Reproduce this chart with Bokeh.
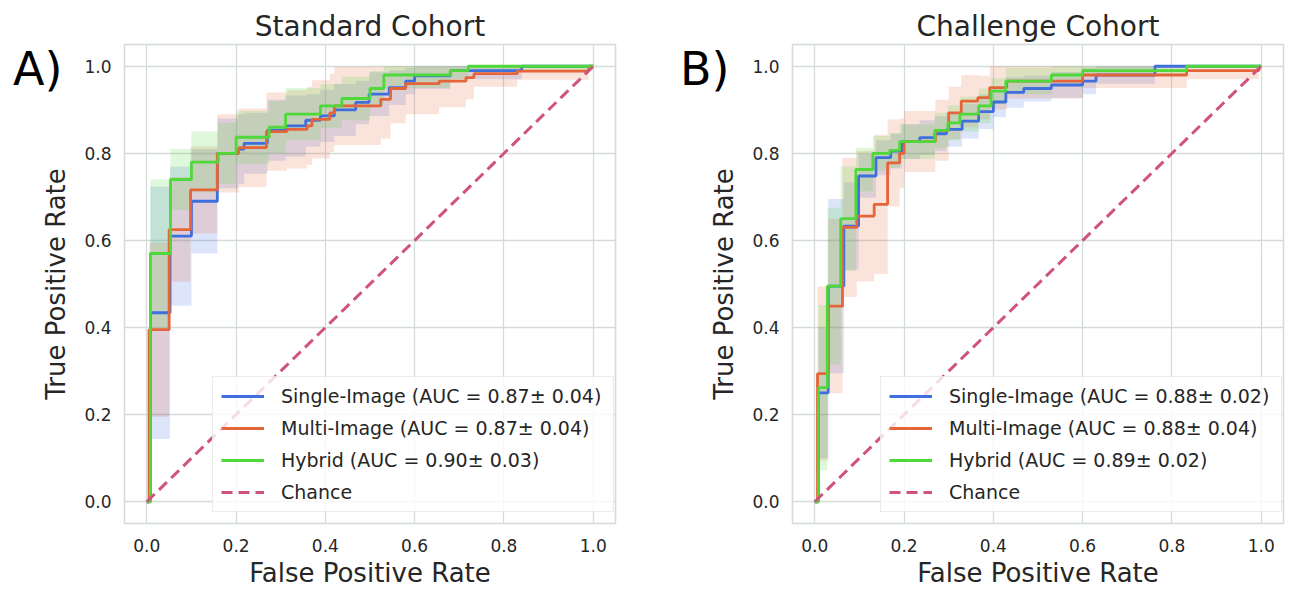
import numpy as np
from bokeh.plotting import figure
from bokeh.layouts import row
from bokeh.models import Legend, LegendItem, ColumnDataSource, FixedTicker, Range1d, Div
from bokeh.embed import file_html
from bokeh.resources import INLINE

# ---------------- data ----------------
tick_values = [0.0, 0.2, 0.4, 0.6, 0.8, 1.0]
tick_labels = ["0.0", "0.2", "0.4", "0.6", "0.8", "1.0"]
chance_x = [0.0, 1.0]
chance_y = [0.0, 1.0]

# Standard cohort (panel A): step curves (fpr where level starts, mean tpr, std)
a_single_fpr = [0, 0.008, 0.052, 0.10, 0.158, 0.205, 0.218, 0.27, 0.311, 0.356, 0.389, 0.42, 0.468, 0.498, 0.543, 0.58, 0.60, 0.68, 0.84, 1.0]
a_single_tpr = [0, 0.434, 0.61, 0.69, 0.80, 0.81, 0.823, 0.853, 0.863, 0.876, 0.886, 0.90, 0.917, 0.936, 0.951, 0.966, 0.978, 0.99, 1.0, 1.0]
a_single_std = [0, 0.29, 0.16, 0.12, 0.08, 0.08, 0.07, 0.07, 0.07, 0.06, 0.06, 0.06, 0.05, 0.05, 0.04, 0.03, 0.03, 0.02, 0, 0]

a_multi_fpr = [0, 0.005, 0.05, 0.098, 0.158, 0.206, 0.268, 0.314, 0.359, 0.37, 0.41, 0.42, 0.524, 0.546, 0.58, 0.655, 0.715, 0.733, 0.83, 0.99, 1.0]
a_multi_tpr = [0, 0.395, 0.625, 0.716, 0.80, 0.813, 0.85, 0.855, 0.863, 0.878, 0.893, 0.909, 0.924, 0.949, 0.96, 0.966, 0.974, 0.983, 0.989, 1.0, 1.0]
a_multi_std = [0, 0.20, 0.12, 0.10, 0.09, 0.09, 0.09, 0.09, 0.09, 0.09, 0.09, 0.09, 0.09, 0.08, 0.07, 0.06, 0.05, 0.03, 0.02, 0, 0]

a_hybrid_fpr = [0, 0.008, 0.053, 0.10, 0.16, 0.20, 0.274, 0.311, 0.389, 0.437, 0.50, 0.531, 0.68, 0.72, 1.0]
a_hybrid_tpr = [0, 0.57, 0.74, 0.78, 0.80, 0.837, 0.86, 0.89, 0.909, 0.926, 0.949, 0.98, 0.99, 1.0, 1.0]
a_hybrid_std = [0, 0.17, 0.07, 0.07, 0.07, 0.06, 0.06, 0.06, 0.05, 0.05, 0.04, 0.03, 0.02, 0.01, 0]

# Challenge cohort (panel B)
b_single_fpr = [0, 0.008, 0.03, 0.065, 0.098, 0.137, 0.17, 0.195, 0.235, 0.269, 0.295, 0.33, 0.367, 0.40, 0.428, 0.468, 0.53, 0.60, 0.63, 0.762, 1.0]
b_single_tpr = [0, 0.25, 0.495, 0.633, 0.748, 0.79, 0.805, 0.827, 0.836, 0.845, 0.855, 0.874, 0.896, 0.918, 0.94, 0.949, 0.957, 0.966, 0.98, 1.0, 1.0]
b_single_std = [0, 0.15, 0.20, 0.10, 0.05, 0.04, 0.04, 0.04, 0.04, 0.04, 0.04, 0.04, 0.04, 0.035, 0.035, 0.03, 0.03, 0.03, 0.02, 0, 0]

b_multi_fpr = [0, 0.006, 0.03, 0.062, 0.094, 0.133, 0.163, 0.19, 0.20, 0.27, 0.30, 0.328, 0.365, 0.392, 0.43, 0.60, 0.833, 0.995, 1.0]
b_multi_tpr = [0, 0.294, 0.449, 0.63, 0.656, 0.683, 0.778, 0.80, 0.827, 0.853, 0.893, 0.92, 0.928, 0.951, 0.966, 0.98, 0.99, 1.0, 1.0]
b_multi_std = [0, 0.20, 0.20, 0.16, 0.15, 0.16, 0.10, 0.08, 0.07, 0.07, 0.06, 0.06, 0.05, 0.05, 0.04, 0.03, 0.02, 0, 0]

b_hybrid_fpr = [0, 0.008, 0.028, 0.058, 0.092, 0.13, 0.168, 0.19, 0.269, 0.298, 0.325, 0.367, 0.395, 0.428, 0.53, 0.60, 0.833, 1.0]
b_hybrid_tpr = [0, 0.262, 0.495, 0.65, 0.763, 0.80, 0.807, 0.827, 0.853, 0.87, 0.89, 0.909, 0.943, 0.966, 0.98, 0.99, 1.0, 1.0]
b_hybrid_std = [0, 0.19, 0.18, 0.12, 0.05, 0.04, 0.04, 0.04, 0.04, 0.04, 0.04, 0.04, 0.03, 0.03, 0.02, 0.01, 0, 0]

a_labels = ["Single-Image (AUC = 0.87\u00b1 0.04)", "Multi-Image (AUC = 0.87\u00b1 0.04)",
            "Hybrid (AUC = 0.90\u00b1 0.03)", "Chance"]
b_labels = ["Single-Image (AUC = 0.88\u00b1 0.02)", "Multi-Image (AUC = 0.88\u00b1 0.04)",
            "Hybrid (AUC = 0.89\u00b1 0.02)", "Chance"]

# ---------------- style ----------------
FONT = "DejaVu Sans"
TEXT = "#262626"
GRID = "#d3dcd9"
COLORS = ["#3f6fdd", "#e4653a", "#4ed83a"]
CHANCE = "#d0527f"


def make_panel(title, curves, labels, width, border_left, border_right):
    p = figure(width=width, height=590, output_backend="svg", toolbar_location=None,
               x_range=Range1d(-0.05, 1.05), y_range=Range1d(-0.05, 1.05),
               min_border_left=border_left, min_border_right=border_right,
               min_border_top=44, min_border_bottom=66)
    p.background_fill_color = "white"
    p.border_fill_color = "white"
    p.outline_line_color = GRID
    p.outline_line_width = 1.5

    p.title.text = title
    p.title.align = "center"
    p.title.text_font = FONT
    p.title.text_font_size = "28px"
    p.title.text_font_style = "normal"
    p.title.text_color = TEXT
    p.title.standoff = 4

    for ax in (p.xaxis[0], p.yaxis[0]):
        ax.ticker = FixedTicker(ticks=tick_values)
        ax.major_label_overrides = {v: s for v, s in zip(tick_values, tick_labels)}
        ax.axis_line_color = None
        ax.major_tick_line_color = None
        ax.minor_tick_line_color = None
        ax.major_tick_out = 0
        ax.major_tick_in = 0
        ax.major_label_text_font = FONT
        ax.major_label_text_font_size = "17px"
        ax.major_label_text_color = TEXT
        ax.axis_label_text_font = FONT
        ax.axis_label_text_font_size = "26px"
        ax.axis_label_text_font_style = "normal"
        ax.axis_label_text_color = TEXT
    p.xaxis.axis_label = "False Positive Rate"
    p.yaxis.axis_label = "True Positive Rate"
    p.xaxis.major_label_standoff = 15
    p.xaxis.axis_label_standoff = 3
    p.yaxis.major_label_standoff = 13
    p.yaxis.axis_label_standoff = 10

    p.grid.grid_line_color = GRID
    p.grid.grid_line_width = 1.3

    sources = []
    for (fpr, tpr, std), color in zip(curves, COLORS):
        t = np.array(tpr, dtype=float)
        s = np.array(std, dtype=float)
        src = ColumnDataSource(dict(x=fpr, y=tpr, lo=np.clip(t - s, 0, 1), hi=np.clip(t + s, 0, 1)))
        p.varea_step(x="x", y1="lo", y2="hi", source=src, step_mode="after",
                     fill_color=color, fill_alpha=0.18)
        sources.append((src, color))
    line_rs = []
    for src, color in sources:
        r = p.step(x="x", y="y", source=src, mode="after", line_color=color, line_width=2.8)
        line_rs.append(r)
    rc = p.line(chance_x, chance_y, line_color=CHANCE, line_width=3, line_dash="11 6")
    line_rs.append(rc)

    legend = Legend(items=[LegendItem(label=l, renderers=[r]) for l, r in zip(labels, line_rs)],
                    location=(88, 11))
    legend.label_text_font = FONT
    legend.label_text_font_size = "19px"
    legend.label_text_color = TEXT
    legend.border_line_color = "#d8dcdb"
    legend.border_line_width = 1.2
    legend.background_fill_alpha = 0.8
    legend.padding = 8
    legend.spacing = 10
    legend.glyph_width = 43
    legend.glyph_height = 20
    legend.label_height = 20
    legend.label_width = 324
    legend.label_standoff = 17
    legend.margin = 0
    p.add_layout(legend)
    return p


def letter_div(text, left):
    return Div(text=text, width=60, height=56,
               styles={"position": "absolute", "left": f"{left}px", "top": "37px",
                       "z-index": "10", "font-family": "DejaVu Sans", "font-size": "46px",
                       "color": "black", "line-height": "normal"})


pA = make_panel("Standard Cohort",
                [(a_single_fpr, a_single_tpr, a_single_std),
                 (a_multi_fpr, a_multi_tpr, a_multi_std),
                 (a_hybrid_fpr, a_hybrid_tpr, a_hybrid_std)],
                a_labels, 676, 124, 61)
pB = make_panel("Challenge Cohort",
                [(b_single_fpr, b_single_tpr, b_single_std),
                 (b_multi_fpr, b_multi_tpr, b_multi_std),
                 (b_hybrid_fpr, b_hybrid_tpr, b_hybrid_std)],
                b_labels, 613, 116, 6)

layout = row(pA, pB, letter_div("A)", 8), letter_div("B)", 675))
open("out.html", "w").write(file_html(layout, INLINE))
